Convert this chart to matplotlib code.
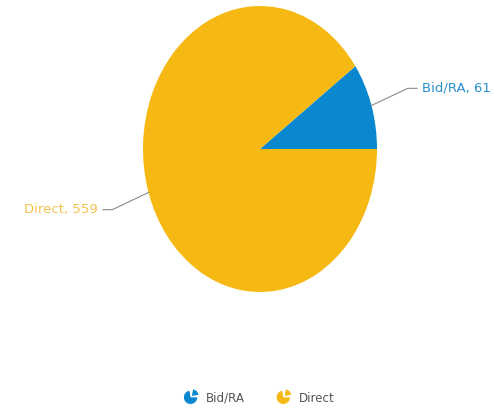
import matplotlib
matplotlib.use("Agg")
import matplotlib.pyplot as plt
from matplotlib.patches import Wedge
from matplotlib.legend_handler import HandlerBase
import numpy as np

categories = ["Bid/RA", "Direct"]
values = [61, 559]
colors = ["#0A88CF", "#F6B914"]
label_colors = ["#2A8FD0", "#F4C24E"]

plt.rcParams['font.family'] = ['DejaVu Sans']

W, H = 494, 411
fig = plt.figure(figsize=(W / 100, H / 100), dpi=100)
cx, cy, rx, ry = 260, 149, 117, 143
ax = fig.add_axes([(cx - rx) / W, (H - (cy + ry)) / H, 2 * rx / W, 2 * ry / H])
wedges, _ = ax.pie(values, colors=colors, startangle=0, counterclock=True,
                   radius=1, wedgeprops=dict(linewidth=0))
ax.set_aspect('auto')
ax.set_xlim(-1, 1)
ax.set_ylim(-1, 1)
ax.axis('off')

total = sum(values)
start = 0
for i, (cat, v) in enumerate(zip(categories, values)):
    ang = start + 360 * v / total / 2
    start += 360 * v / total
    a = np.deg2rad(ang)
    x0, y0 = np.cos(a), np.sin(a)
    side = 1 if x0 >= 0 else -1
    x1 = x0 + side * 0.31
    y1 = y0 + 0.12 * np.sign(y0)
    x2 = x1 + side * 0.08
    ax.plot([x0, x1, x2], [y0, y1, y1], color="#8a8a8a", lw=0.8, clip_on=False)
    ax.text(x2 + side * 0.04, y1, f"{cat}, {v}", color=label_colors[i],
            fontsize=9.5, ha='left' if side > 0 else 'right', va='center',
            clip_on=False)


class PieIconHandler(HandlerBase):
    def create_artists(self, legend, orig_handle, xdescent, ydescent, width,
                       height, fontsize, trans):
        r = height * 0.8
        c = (width / 2 - xdescent, height / 2 - ydescent)
        col = orig_handle.get_facecolor()
        w1 = Wedge(c, r, 100, 360, facecolor=col, edgecolor='none', transform=trans)
        off = (c[0] + r * 0.2, c[1] + r * 0.2)
        w2 = Wedge(off, r, 10, 80, facecolor=col, edgecolor='none', transform=trans)
        return [w1, w2]


handles = [Wedge((0, 0), 1, 0, 360, facecolor=c) for c in colors]
fig.legend(handles, categories, loc='center', bbox_to_anchor=(259 / W, (H - 398) / H),
           ncol=2, frameon=False, fontsize=8.6, handler_map={Wedge: PieIconHandler()},
           handlelength=1.2, handletextpad=0.7, columnspacing=2.6,
           labelcolor='#555555')

fig.savefig("out.png", dpi=100)
